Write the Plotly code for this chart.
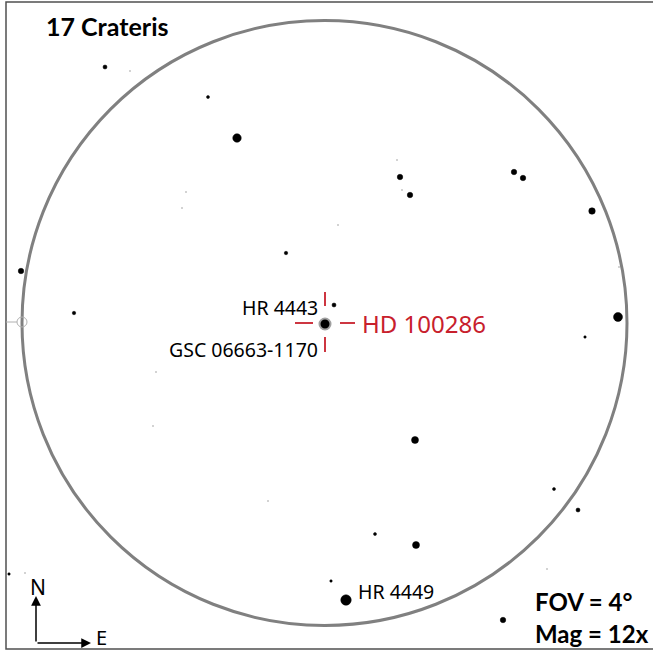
import plotly.graph_objects as go

# chart units: pixel-like positions on the finder chart, y grows downward
star_x = [105, 208, 237, 400, 410, 514, 523, 592, 286, 21, 74, 618, 585, 334,
          415, 554, 578, 375, 416, 331, 346, 503, 9]
star_y = [67, 97, 138, 177, 195, 172, 178, 211, 253, 271, 313, 317, 337, 305,
          440, 489, 510, 534, 545, 581, 600, 620, 574]
star_size = [4, 3, 8.5, 5.5, 5.5, 5.5, 5.5, 6.5, 3.5, 5.5, 3.5, 9, 2.5, 4,
             7, 3, 4, 3, 7, 2.5, 10.5, 5.5, 2.5]

faint_x = [130, 186, 182, 338, 397, 402, 619, 156, 153, 268, 547, 25]
faint_y = [71, 192, 208, 225, 160, 190, 267, 372, 426, 501, 569, 573]

target_x = [325]
target_y = [324]
target_name = "HD 100286"

labels = ["HR 4443", "GSC 06663-1170", "HR 4449"]
label_x = [320, 320, 356]
label_y = [307, 349, 591]
label_anchor = ["right", "right", "left"]

title = "17 Crateris"
fov_text = ["FOV = 4°", "Mag = 12x"]

fov_cx, fov_cy, fov_r = 324.5, 323, 302.5

red = "#c8202c"

fig = go.Figure()

fig.add_trace(go.Scatter(x=faint_x, y=faint_y, mode="markers",
                         marker=dict(size=2, color="#c4c4c4"),
                         hoverinfo="skip", showlegend=False))
fig.add_trace(go.Scatter(x=star_x, y=star_y, mode="markers",
                         marker=dict(size=star_size, color="black", opacity=1,
                                     line=dict(width=0.5, color="black")),
                         hoverinfo="skip", showlegend=False))
fig.add_trace(go.Scatter(x=target_x, y=target_y, mode="markers",
                         marker=dict(size=11, color="black", line=dict(width=2, color="#a0a0a0")),
                         hoverinfo="skip", showlegend=False))

shapes = []
# frame
shapes.append(dict(type="rect", x0=6, x1=670, y0=2, y1=649,
                   line=dict(color="#505050", width=1.5)))
# field of view circle
shapes.append(dict(type="circle", x0=fov_cx - fov_r, x1=fov_cx + fov_r,
                   y0=fov_cy - fov_r, y1=fov_cy + fov_r,
                   line=dict(color="#808080", width=3)))
# small marker on the circle edge
shapes.append(dict(type="line", x0=6, x1=17, y0=fov_cy - 1, y1=fov_cy - 1,
                   line=dict(color="#b0b0b0", width=1)))
shapes.append(dict(type="circle", x0=fov_cx - fov_r - 5, x1=fov_cx - fov_r + 5,
                   y0=fov_cy - 6, y1=fov_cy + 4,
                   line=dict(color="#b0b0b0", width=1)))
# red crosshair around the target
tx, ty = target_x[0], target_y[0] - 1
for (dx0, dy0, dx1, dy1) in [(0, -31, 0, -17), (0, 14, 0, 29),
                             (-30, 0, -12, 0), (15, 0, 30, 0)]:
    shapes.append(dict(type="line", x0=tx + dx0, x1=tx + dx1, y0=ty + dy0, y1=ty + dy1,
                       line=dict(color=red, width=1.8)))

annotations = []
annotations.append(dict(x=44, y=26, text=title, showarrow=False, xanchor="left",
                        font=dict(family="Lato", size=25, color="black", weight="bold")))
for t, x, y, a in zip(labels, label_x, label_y, label_anchor):
    annotations.append(dict(x=x, y=y, text=t, showarrow=False, xanchor=a,
                            font=dict(family="Noto Sans", size=19.5, color="black")))
annotations.append(dict(x=360, y=323, text=target_name, showarrow=False, xanchor="left",
                        font=dict(family="Noto Sans", size=24, color=red)))
annotations.append(dict(x=533, y=601, text=fov_text[0], showarrow=False, xanchor="left",
                        font=dict(family="Lato", size=24, color="black", weight="bold")))
annotations.append(dict(x=533, y=633, text=fov_text[1], showarrow=False, xanchor="left",
                        font=dict(family="Lato", size=24, color="black", weight="bold")))
# compass
annotations.append(dict(x=36, y=596, ax=36, ay=643, xref="x", yref="y", axref="x", ayref="y",
                        text="", showarrow=True, arrowhead=2, arrowsize=1.3, arrowwidth=1.5,
                        arrowcolor="black"))
annotations.append(dict(x=91, y=643, ax=36, ay=643, xref="x", yref="y", axref="x", ayref="y",
                        text="", showarrow=True, arrowhead=2, arrowsize=1.3, arrowwidth=1.5,
                        arrowcolor="black"))
annotations.append(dict(x=38, y=587, text="N", showarrow=False,
                        font=dict(family="Noto Sans", size=21, color="black")))
annotations.append(dict(x=101, y=637, text="E", showarrow=False,
                        font=dict(family="Noto Sans", size=20, color="black")))

fig.update_layout(width=653, height=651, margin=dict(l=0, r=0, t=0, b=0),
                  paper_bgcolor="white", plot_bgcolor="white",
                  shapes=shapes, annotations=annotations, showlegend=False)
fig.update_xaxes(range=[0, 653], visible=False, fixedrange=True)
fig.update_yaxes(range=[651, 0], visible=False, fixedrange=True)

fig.write_html("out.html", config={"displayModeBar": False},
               post_script="document.body.style.margin='0';document.body.style.overflow='hidden';")
